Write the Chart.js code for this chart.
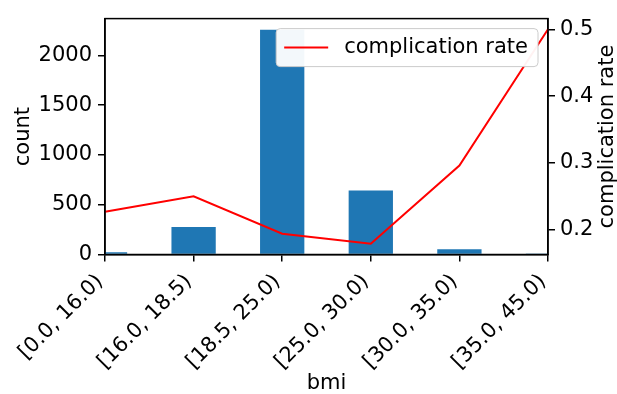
<!DOCTYPE html>
<html>
<head>
<meta charset="utf-8">
<script src="https://cdn.jsdelivr.net/npm/chart.js@4"></script>
<style>
  html, body { margin: 0; padding: 0; background: #fff; }
  #wrap { width: 617px; height: 394px; }
</style>
</head>
<body>
<div id="wrap"><canvas id="grafico"></canvas></div>
<script>
// categorias de bmi
var categorias = ["[0.0, 16.0)", "[16.0, 18.5)", "[18.5, 25.0)", "[25.0, 30.0)", "[30.0, 35.0)", "[35.0, 45.0)"];
// contagem por faixa
var contagem = [22, 276, 2257, 642, 54, 2];
// taxa de complicação por faixa
var taxaComplicacao = [0.227, 0.25, 0.194, 0.179, 0.296, 0.5];
// ticks dos eixos
var ticksContagem = [0, 500, 1000, 1500, 2000];
var ticksTaxa = [0.2, 0.3, 0.4, 0.5];

var fonte = { family: "DejaVu Sans", size: 21 };
Chart.defaults.font.family = "DejaVu Sans";
Chart.defaults.color = "#000";

// moldura completa + legenda dentro da área do gráfico
var molduraLegenda = {
  id: "molduraLegenda",
  afterDatasetsDraw: function (chart) {
    var ctx = chart.ctx;
    var a = chart.chartArea;
    ctx.save();
    ctx.strokeStyle = "#000";
    ctx.lineWidth = 1.5;
    ctx.strokeRect(a.left, a.top, a.right - a.left, a.bottom - a.top);

    // legenda
    var ds = chart.data.datasets[0];
    ctx.font = "21px 'DejaVu Sans'";
    var tw = ctx.measureText(ds.label).width;
    var w = tw + 78;
    var h = 38;
    var x0 = a.right - 10 - w;
    var y0 = a.top + 10;
    ctx.beginPath();
    ctx.roundRect(x0, y0, w, h, 4);
    ctx.fillStyle = "rgba(255,255,255,0.95)";
    ctx.fill();
    ctx.strokeStyle = "#cccccc";
    ctx.lineWidth = 1;
    ctx.stroke();
    ctx.beginPath();
    ctx.moveTo(x0 + 8, y0 + h / 2);
    ctx.lineTo(x0 + 52, y0 + h / 2);
    ctx.strokeStyle = ds.borderColor;
    ctx.lineWidth = 2;
    ctx.stroke();
    ctx.fillStyle = "#000";
    ctx.textBaseline = "middle";
    ctx.fillText(ds.label, x0 + 68, y0 + h / 2);

    // título do eixo direito, de baixo para cima
    ctx.translate(608, (a.top + a.bottom) / 2);
    ctx.rotate(-Math.PI / 2);
    ctx.textAlign = "center";
    ctx.fillText("complication rate", 0, 0);
    ctx.restore();
  },
};

new Chart(document.getElementById("grafico").getContext("2d"), {
  type: "bar",
  data: {
    labels: categorias,
    datasets: [
      {
        type: "line",
        label: "complication rate",
        data: taxaComplicacao,
        borderColor: "#ff0000",
        borderWidth: 2,
        pointRadius: 0,
        tension: 0,
        yAxisID: "y2",
        order: 0,
      },
      {
        label: "count",
        data: contagem,
        backgroundColor: "#1f77b4",
        categoryPercentage: 1,
        barPercentage: 0.5,
        yAxisID: "y",
        order: 1,
      },
    ],
  },
  options: {
    responsive: true,
    maintainAspectRatio: false,
    animation: false,
    layout: { padding: { top: 8, left: 0, right: 0, bottom: 0 } },
    plugins: {
      legend: { display: false },
      tooltip: { enabled: false },
    },
    scales: {
      x: {
        type: "category",
        offset: false,
        grid: { display: true, drawOnChartArea: false, offset: false, tickLength: 7, color: "#000", lineWidth: 1.5 },
        border: { color: "#000", width: 1.5 },
        ticks: { font: fonte, color: "#000", maxRotation: 45, minRotation: 45, padding: 8, labelOffset: -5, autoSkip: false },
        title: { display: true, text: "bmi", font: fonte, color: "#000", padding: { top: 0, bottom: -2 } },
        afterFit: function (s) { s.height = 139.5; },
      },
      y: {
        position: "left",
        min: 0,
        max: 2370,
        grid: { display: true, drawOnChartArea: false, tickLength: 7, color: "#000", lineWidth: 1.5 },
        border: { color: "#000", width: 1.5 },
        ticks: { font: fonte, color: "#000", padding: 6, callback: function (v) { return String(v); } },
        title: { display: true, text: "count", font: fonte, color: "#000", padding: { top: 11, bottom: 0 } },
        afterBuildTicks: function (s) { s.ticks = ticksContagem.map(function (v) { return { value: v }; }); },
        afterFit: function (s) { s.width = 105; },
      },
      y2: {
        position: "right",
        min: 0.163,
        max: 0.516,
        grid: { display: true, drawOnChartArea: false, tickLength: 7, color: "#000", lineWidth: 1.5 },
        border: { color: "#000", width: 1.5 },
        ticks: { font: fonte, color: "#000", padding: 5, callback: function (v) { return v.toFixed(1); } },
        title: { display: false },
        afterBuildTicks: function (s) { s.ticks = ticksTaxa.map(function (v) { return { value: v }; }); },
        afterFit: function (s) { s.width = 69; },
      },
    },
  },
  plugins: [molduraLegenda],
});
</script>
</body>
</html>
